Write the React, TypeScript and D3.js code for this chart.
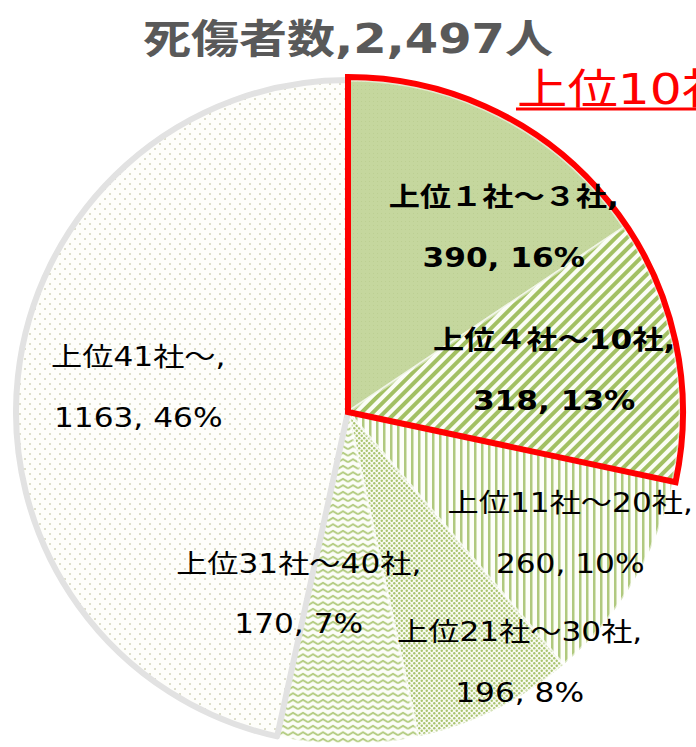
import React from "react";
import * as d3 from "d3";

// slices, clockwise from 12 o'clock
const categories = ["上位１社～３社", "上位４社～10社", "上位11社～20社", "上位21社～30社", "上位31社～40社", "上位41社～"];
const values = [390, 318, 260, 196, 170, 1163];
const percents = [16, 13, 10, 8, 7, 46];
const boldLabels = [true, true, false, false, false, false];
const fills = ["url(#solid)", "url(#diag)", "url(#vert)", "url(#dots)", "url(#zig)", "url(#sparse)"];

const title = "死傷者数,2,497人";
const highlightTitle = "上位10社";
const highlightCount = 2; // first two slices = top 10

// manual label nudges (like the hand-placed labels in the original)
const labelNudge = [[53, 17], [-8, 9], [35, 19], [75, 64], [-49, -27], [7, 8]];

const width = 696;
const height = 747;
const cx = 348;
const cy = 412;
const radius = 332;
const fontFamily = "'DejaVu Sans', 'Noto Sans CJK JP', sans-serif";
const sx = 1.2; // text in the original is stretched horizontally

const App = () => {
  const pie = d3.pie<number>().sort(null).value(d => d);
  const arcs = pie(values);
  const arc = d3.arc<d3.PieArcDatum<number>>().innerRadius(0).outerRadius(radius);
  const labelArc = d3.arc<d3.PieArcDatum<number>>().innerRadius(218).outerRadius(218);
  const redArc = d3.arc()({
    innerRadius: 0,
    outerRadius: 335,
    startAngle: 0,
    endAngle: arcs[highlightCount - 1].endAngle,
  } as any);
  const last = arcs.length - 1;

  return (
    <svg width={width} height={height} style={{ position: "absolute", left: 0, top: 0, background: "#fff" }}>
      <defs>
        <pattern id="solid" patternUnits="userSpaceOnUse" width="4" height="4">
          <rect width="4" height="4" fill="#c5d79e" />
          <rect x="1" y="1" width="1" height="1" fill="#bccf92" />
        </pattern>
        <pattern id="diag" patternUnits="userSpaceOnUse" width="8" height="8" patternTransform="rotate(45)">
          <rect width="8" height="8" fill="#fbfdf6" />
          <rect width="4" height="8" fill="#a2c063" />
        </pattern>
        <pattern id="vert" patternUnits="userSpaceOnUse" width="7" height="7">
          <rect width="7" height="7" fill="#fdfef9" />
          <rect width="2.5" height="7" fill="#b0c97e" />
        </pattern>
        <pattern id="dots" patternUnits="userSpaceOnUse" width="5" height="5">
          <rect width="5" height="5" fill="#f9fbf2" />
          <circle cx="1.25" cy="1.25" r="1.2" fill="#a9c46f" />
          <circle cx="3.75" cy="3.75" r="1.2" fill="#a9c46f" />
        </pattern>
        <pattern id="zig" patternUnits="userSpaceOnUse" width="10" height="6.5">
          <rect width="10" height="6.5" fill="#fcfdf8" />
          <path d="M0,4.7 L5,1.7 L10,4.7" fill="none" stroke="#b0ca7c" strokeWidth="1.8" />
        </pattern>
        <pattern id="sparse" patternUnits="userSpaceOnUse" width="10" height="10">
          <rect width="10" height="10" fill="#fefefb" />
          <circle cx="2" cy="2" r="1" fill="#d2d4ba" />
          <circle cx="7" cy="7" r="1" fill="#d2d4ba" />
        </pattern>
      </defs>

      <text x={cx} y={53} transform={`translate(${cx * (1 - sx)},0) scale(${sx},1)`} textAnchor="middle"
        fontFamily={fontFamily} fontWeight="bold" fontSize={40} fill="#595959">
        {title}
      </text>

      <g transform={`translate(${cx},${cy})`}>
        {arcs.map((a, i) => (
          <path key={i} d={arc(a) || ""} fill={fills[i]}
            stroke={i === last ? "#e2e2e2" : "#ffffff"}
            strokeOpacity={i === last ? 1 : 0.5}
            strokeWidth={i === last ? 6 : 3} strokeLinejoin="round" />
        ))}
        <path d={redArc || ""} fill="none" stroke="#ff0000" strokeWidth={6} strokeLinejoin="miter" />
        {arcs.map((a, i) => {
          const [x, y] = labelArc.centroid(a);
          const lx = x + labelNudge[i][0];
          const ly = y + labelNudge[i][1];
          return (
            <g key={"l" + i} transform={`translate(${lx},${ly}) scale(${sx},1)`}
              fontFamily={fontFamily} fontSize={26} fontWeight={boldLabels[i] ? "bold" : "normal"}
              fill="#000" textAnchor="middle">
              <text y={-30.5}>{categories[i] + ","}</text>
              <text y={30.5}>{`${values[i]}, ${percents[i]}%`}</text>
            </g>
          );
        })}
      </g>

      <g transform={`translate(517,104) scale(${sx},1)`}>
        <text x={0} y={0} fontFamily={fontFamily} fontSize={42} fill="#ff0000">{highlightTitle}</text>
      </g>
      <line x1={516} x2={width} y1={109} y2={109} stroke="#ff0000" strokeWidth={3} />
    </svg>
  );
};

export default App;
